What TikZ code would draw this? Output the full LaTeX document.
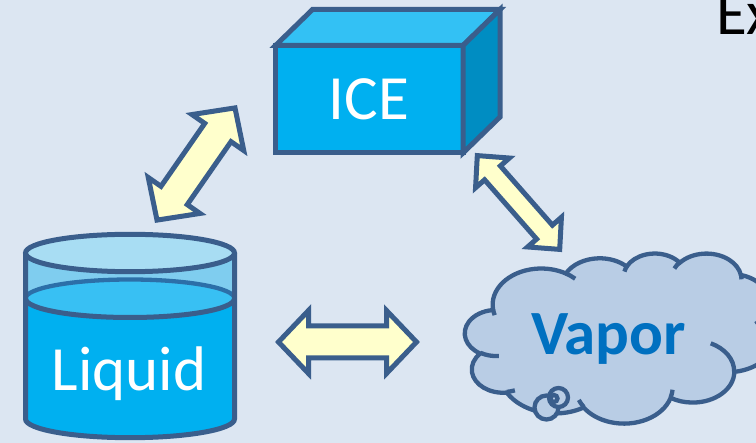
\documentclass[tikz,border=0pt]{standalone}
\usepackage{fontspec}
\setmainfont{Carlito}
\usetikzlibrary{calc}

\definecolor{bg}{HTML}{DCE6F2}
\definecolor{edge}{HTML}{3A5E8C}
\definecolor{icefront}{HTML}{00B0F0}
\definecolor{icetop}{HTML}{33C1F4}
\definecolor{iceside}{HTML}{008DC2}
\definecolor{glasstop}{HTML}{A8DDF3}
\definecolor{glassband}{HTML}{7FCDEF}
\definecolor{watertop}{HTML}{38C0F3}
\definecolor{waterline}{HTML}{2C6FA8}
\definecolor{cloudfill}{HTML}{B9CDE5}
\definecolor{vaportext}{HTML}{0070C0}
\definecolor{arrowfill}{HTML}{FFFFCC}

% Cloud arcs are given with "visual" angles (angle of the ray from the
% centre); TikZ wants parametric angles, so convert them once here.
% #1 tag, #2 x radius, #3 y radius, #4 start angle, #5 sweep (positive)
\newcommand\arcprep[5]{%
  \pgfmathsetmacro\tmpa{atan2(#2*sin(#4),#3*cos(#4))}%
  \pgfmathsetmacro\tmpb{atan2(#2*sin(#4+#5),#3*cos(#4+#5))}%
  \pgfmathsetmacro\tmpd{\tmpb-\tmpa}%
  \pgfmathsetmacro\tmpd{\tmpd+360*(\tmpd<0)}%
  \expandafter\xdef\csname arcS#1\endcsname{\tmpa}%
  \expandafter\xdef\csname arcD#1\endcsname{\tmpd}%
}
% outline of the cloud
\arcprep{a}{675.3}{919.0}{-190.4875}{123.7805}
\arcprep{b}{533.3}{726.7}{-144.1024}{89.9452}
\arcprep{c}{436.5}{594.5}{-145.8079}{99.7230}
\arcprep{d}{485.7}{659.5}{-130.9861}{117.2417}
\arcprep{e}{533.3}{727.3}{-78.7089}{109.0269}
\arcprep{f}{677.5}{922.0}{-46.2673}{130.2690}
\arcprep{g}{578.5}{786.7}{0.6250}{114.0333}
\arcprep{h}{675.2}{921.5}{22.4516}{115.1726}
\arcprep{i}{772.0}{1054.3}{66.2426}{75.7110}
\arcprep{j}{436.0}{591.8}{-274.9421}{146.7356}
\arcprep{k}{434.5}{594.5}{-246.8285}{152.5189}
% inner creases of the cloud
\arcprep{la}{434.5}{594.5}{86.7420}{26.4295}
\arcprep{lb}{436.0}{591.8}{73.6105}{11.4475}
\arcprep{lc}{675.2}{921.5}{137.6241}{14.0811}
\arcprep{ld}{675.2}{921.5}{6.4533}{15.9984}
\arcprep{le}{578.5}{786.7}{-70.2924}{70.9174}
\arcprep{lf}{533.3}{727.3}{30.3180}{27.7515}
\arcprep{lg}{485.7}{659.5}{-13.7443}{14.8589}
\arcprep{lh}{485.7}{659.5}{-149.1815}{18.1954}
\arcprep{li}{436.5}{594.5}{-163.4943}{17.6864}
\arcprep{lj}{675.3}{919.0}{-66.7070}{12.3194}
\arcprep{lk}{675.3}{919.0}{157.6544}{11.8582}

% double-headed block arrow between two points:
% #1,#2 tips, #3 head length, #4 head half width, #5 shaft half width
\newcommand\dblarrow[5]{%
  \draw[arrowbody]
    (#1)
    -- ($(#1)!#3!(#2)!#4!90:(#2)$)
    -- ($(#1)!#3!(#2)!#5!90:(#2)$)
    -- ($(#2)!#3!(#1)!#5!-90:(#1)$)
    -- ($(#2)!#3!(#1)!#4!-90:(#1)$)
    -- (#2)
    -- ($(#2)!#3!(#1)!#4!90:(#1)$)
    -- ($(#2)!#3!(#1)!#5!90:(#1)$)
    -- ($(#1)!#3!(#2)!#5!-90:(#2)$)
    -- ($(#1)!#3!(#2)!#4!-90:(#2)$)
    -- cycle;}

\begin{document}
\begin{tikzpicture}[x=1pt,y=-1pt,
  outline/.style={draw=edge,line width=5pt,line join=miter},
  arrowbody/.style={fill=arrowfill,draw=edge,line width=5pt,line join=miter},
  cloudshape/.style={fill=cloudfill,draw=edge,line width=4.3pt},
  cloudline/.style={draw=edge,line width=4.3pt},
  bigtext/.style={font=\fontsize{63}{70}\selectfont,inner sep=0pt}]

\useasboundingbox (0,0) rectangle (756,443);
\fill[bg] (0,0) rectangle (756,443);

% ---- ice cube ----
\filldraw[outline,fill=icefront] (275.5,45.5) rectangle (463,153);
\filldraw[outline,fill=icetop] (275.5,45.5) -- (312.5,9.5) -- (500,9.5) -- (463,45.5) -- cycle;
\filldraw[outline,fill=iceside] (463,45.5) -- (500,9.5) -- (500,117) -- (463,153) -- cycle;
\node[bigtext,text=white,anchor=base] (ice) at (369,120) {ICE};

% ---- glass of water ----
\fill[icefront] (25.5,298.5) -- (25.5,419)
  arc[start angle=180,delta angle=-180,x radius=104.5,y radius=18.7]
  -- (234.5,298.5) -- cycle;
\fill[glassband] (25.5,253) rectangle (234.5,298.5);
\fill[watertop] (130,298.5) ellipse[x radius=104.5,y radius=19];
\draw[waterline,line width=4.3pt] (25.5,298.5)
  arc[start angle=180,delta angle=180,x radius=104.5,y radius=19];
\draw[outline] (25.5,298.5)
  arc[start angle=180,delta angle=-180,x radius=104.5,y radius=19];
\filldraw[outline,fill=glasstop] (130,253) ellipse[x radius=104.5,y radius=18.7];
\draw[outline] (25.5,253) -- (25.5,419)
  arc[start angle=180,delta angle=-180,x radius=104.5,y radius=18.7]
  -- (234.5,253);
\node[bigtext,text=white,anchor=base] (liquid) at (129,391) {Liquid};

% ---- vapour cloud ----
\begin{scope}[shift={(465,253)},x=0.0720pt,y=-0.03935pt]
  \path[cloudshape] (390,1437)
    arc[x radius=675.3,y radius=919.0,start angle=\arcSa,delta angle=\arcDa]
    arc[x radius=533.3,y radius=726.7,start angle=\arcSb,delta angle=\arcDb]
    arc[x radius=436.5,y radius=594.5,start angle=\arcSc,delta angle=\arcDc]
    arc[x radius=485.7,y radius=659.5,start angle=\arcSd,delta angle=\arcDd]
    arc[x radius=533.3,y radius=727.3,start angle=\arcSe,delta angle=\arcDe]
    arc[x radius=677.5,y radius=922.0,start angle=\arcSf,delta angle=\arcDf]
    arc[x radius=578.5,y radius=786.7,start angle=\arcSg,delta angle=\arcDg]
    arc[x radius=675.2,y radius=921.5,start angle=\arcSh,delta angle=\arcDh]
    arc[x radius=772.0,y radius=1054.3,start angle=\arcSi,delta angle=\arcDi]
    arc[x radius=436.0,y radius=591.8,start angle=\arcSj,delta angle=\arcDj]
    arc[x radius=434.5,y radius=594.5,start angle=\arcSk,delta angle=\arcDk]
    -- cycle;
  \path[cloudline]
    (469.3,2617.7) arc[x radius=434.5,y radius=594.5,start angle=\arcSla,delta angle=\arcDla]
    (692.8,3489.9) arc[x radius=436.0,y radius=591.8,start angle=\arcSlb,delta angle=\arcDlb]
    (1647.8,3909.0) arc[x radius=675.2,y radius=921.5,start angle=\arcSlc,delta angle=\arcDlc]
    (2882.7,3475.1) arc[x radius=675.2,y radius=921.5,start angle=\arcSld,delta angle=\arcDld]
    (3412.9,2295.4) arc[x radius=578.5,y radius=786.7,start angle=\arcSle,delta angle=\arcDle]
    (4179.8,1535.4) arc[x radius=533.3,y radius=727.3,start angle=\arcSlf,delta angle=\arcDlf]
    (3832.4,542.6) arc[x radius=485.7,y radius=659.5,start angle=\arcSlg,delta angle=\arcDlg]
    (2907.8,395.2) arc[x radius=485.7,y radius=659.5,start angle=\arcSlh,delta angle=\arcDlh]
    (2214.1,472.0) arc[x radius=436.5,y radius=594.5,start angle=\arcSli,delta angle=\arcDli]
    (1400.0,519.2) arc[x radius=675.3,y radius=919.0,start angle=\arcSlj,delta angle=\arcDlj]
    (412.7,1578.9) arc[x radius=675.3,y radius=919.0,start angle=\arcSlk,delta angle=\arcDlk];
\end{scope}
% thought bubbles at the bottom of the cloud
\filldraw[cloudshape] (546.5,407.5) circle[radius=12pt];
\filldraw[cloudshape] (558.5,397.5) circle[radius=9.5pt];
\filldraw[cloudshape] (554,398.5) circle[radius=3.5pt];
\node[bigtext,text=vaportext,font=\fontsize{63}{70}\selectfont\bfseries,anchor=base] (vapor) at (608.5,355) {Vapor};

% ---- heading, running off the right edge ----
\node[bigtext,anchor=base west] (ex) at (716,35) {Ex};

% ---- phase-change arrows ----
\coordinate (iceL) at (235,107.9);
\coordinate (liqI) at (157,220.1);
\coordinate (liqV) at (278.5,342);
\coordinate (vapL) at (416.5,342);
\coordinate (iceV) at (477.3,155.6);
\coordinate (vapI) at (559.7,249.4);
\dblarrow{liqI}{iceL}{30pt}{31.5pt}{16pt}
\dblarrow{liqV}{vapL}{30pt}{31.5pt}{16pt}
\dblarrow{iceV}{vapI}{23pt}{22.5pt}{10.5pt}
\end{tikzpicture}
\end{document}
